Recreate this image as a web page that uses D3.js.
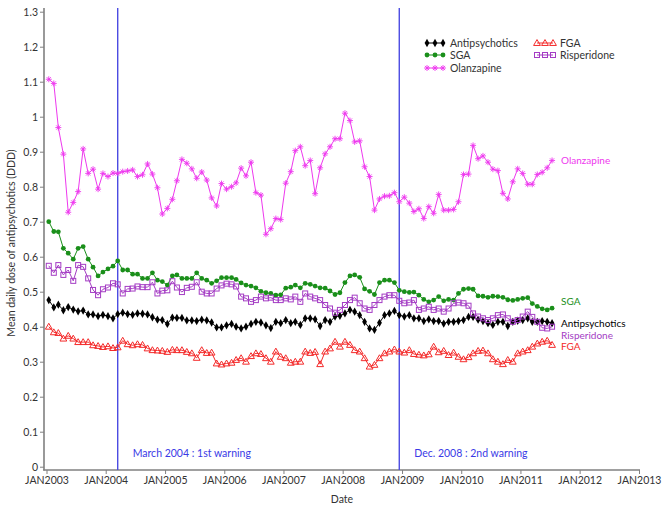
<!DOCTYPE html>
<html>
<head>
<meta charset="utf-8">
<script src="https://cdn.jsdelivr.net/npm/d3@7"></script>
<style>
  html, body { margin: 0; padding: 0; background: #fff; }
  svg { display: block; font-family: Lato, "Open Sans", sans-serif; }
</style>
</head>
<body>
<svg id="chart" width="664" height="510"></svg>
<script>
// ---------------- DATA ----------------
const startMonth = "2003-01";          // first monthly observation
const monthCount = 103;                // Jan 2003 .. Jul 2011

const antipsychotics = [0.476,0.455,0.463,0.447,0.456,0.449,0.444,0.446,0.435,0.435,0.430,0.434,0.430,0.424,0.436,0.440,0.436,0.434,0.438,0.437,0.435,0.427,0.420,0.419,0.408,0.426,0.425,0.425,0.418,0.418,0.416,0.420,0.418,0.412,0.398,0.398,0.404,0.408,0.400,0.395,0.400,0.408,0.414,0.412,0.404,0.396,0.414,0.410,0.419,0.410,0.414,0.405,0.424,0.424,0.421,0.402,0.419,0.414,0.429,0.431,0.438,0.448,0.443,0.433,0.414,0.395,0.391,0.411,0.433,0.438,0.445,0.433,0.429,0.433,0.424,0.424,0.416,0.421,0.416,0.416,0.409,0.414,0.414,0.416,0.419,0.428,0.428,0.420,0.416,0.410,0.405,0.414,0.414,0.402,0.414,0.417,0.419,0.424,0.414,0.414,0.416,0.414,0.410];

const sga = [0.700,0.672,0.671,0.624,0.610,0.593,0.624,0.629,0.593,0.570,0.545,0.556,0.565,0.573,0.588,0.562,0.562,0.550,0.550,0.538,0.538,0.554,0.533,0.529,0.519,0.545,0.548,0.538,0.538,0.538,0.554,0.538,0.533,0.524,0.531,0.540,0.540,0.540,0.535,0.525,0.519,0.516,0.511,0.501,0.497,0.495,0.490,0.491,0.510,0.513,0.519,0.511,0.524,0.521,0.516,0.511,0.510,0.502,0.492,0.497,0.526,0.545,0.548,0.541,0.508,0.501,0.492,0.526,0.533,0.533,0.526,0.504,0.500,0.498,0.499,0.490,0.478,0.471,0.476,0.486,0.474,0.478,0.476,0.495,0.507,0.509,0.507,0.488,0.487,0.484,0.487,0.486,0.484,0.477,0.475,0.478,0.481,0.483,0.466,0.458,0.451,0.448,0.453];

const olanzapine = [1.107,1.095,0.969,0.893,0.727,0.755,0.786,0.908,0.838,0.850,0.793,0.838,0.829,0.839,0.838,0.843,0.845,0.848,0.829,0.834,0.865,0.836,0.797,0.722,0.738,0.764,0.817,0.878,0.867,0.851,0.824,0.842,0.819,0.768,0.745,0.809,0.793,0.800,0.811,0.853,0.831,0.870,0.783,0.776,0.664,0.680,0.709,0.706,0.810,0.843,0.903,0.914,0.860,0.875,0.780,0.854,0.894,0.914,0.937,0.937,1.010,0.989,0.928,0.931,0.857,0.829,0.733,0.765,0.773,0.774,0.783,0.757,0.770,0.753,0.729,0.737,0.709,0.743,0.724,0.778,0.733,0.733,0.735,0.757,0.835,0.836,0.918,0.880,0.888,0.870,0.850,0.846,0.781,0.765,0.814,0.851,0.838,0.807,0.807,0.835,0.841,0.854,0.875];

const fga = [0.400,0.384,0.382,0.366,0.374,0.366,0.356,0.356,0.356,0.347,0.345,0.342,0.344,0.339,0.341,0.360,0.350,0.347,0.350,0.348,0.338,0.333,0.332,0.331,0.328,0.334,0.333,0.333,0.328,0.324,0.311,0.333,0.325,0.326,0.295,0.292,0.295,0.297,0.305,0.310,0.300,0.316,0.324,0.322,0.310,0.300,0.329,0.314,0.310,0.297,0.300,0.300,0.329,0.325,0.328,0.293,0.329,0.338,0.357,0.343,0.357,0.348,0.333,0.329,0.310,0.286,0.291,0.310,0.324,0.329,0.335,0.329,0.326,0.333,0.322,0.320,0.318,0.321,0.343,0.327,0.331,0.319,0.326,0.314,0.307,0.313,0.324,0.331,0.332,0.324,0.307,0.300,0.293,0.305,0.300,0.324,0.329,0.333,0.343,0.352,0.357,0.360,0.348];

const risperidone = [0.574,0.554,0.576,0.548,0.562,0.531,0.576,0.571,0.538,0.505,0.490,0.507,0.512,0.524,0.521,0.495,0.508,0.509,0.515,0.513,0.513,0.527,0.495,0.503,0.504,0.530,0.512,0.499,0.511,0.514,0.527,0.500,0.495,0.495,0.509,0.518,0.523,0.521,0.515,0.486,0.481,0.471,0.476,0.486,0.481,0.483,0.476,0.476,0.481,0.478,0.486,0.471,0.495,0.486,0.481,0.476,0.462,0.452,0.440,0.448,0.462,0.476,0.483,0.467,0.452,0.448,0.462,0.476,0.486,0.490,0.490,0.474,0.467,0.469,0.476,0.448,0.452,0.457,0.448,0.452,0.443,0.452,0.467,0.469,0.467,0.460,0.438,0.429,0.424,0.419,0.424,0.433,0.435,0.424,0.414,0.419,0.429,0.443,0.428,0.414,0.397,0.395,0.400];

const xTickYears  = [2003,2004,2005,2006,2007,2008,2009,2010,2011,2012,2013];
const xTickLabels = ["JAN2003","JAN2004","JAN2005","JAN2006","JAN2007","JAN2008","JAN2009","JAN2010","JAN2011","JAN2012","JAN2013"];
const yTicks      = [0,0.1,0.2,0.3,0.4,0.5,0.6,0.7,0.8,0.9,1,1.1,1.2,1.3];
const yTickLabels = ["0","0.1","0.2","0.3","0.4","0.5","0.6","0.7","0.8","0.9","1","1.1","1.2","1.3"];

const warnings = [
  {date: "2004-03-15", label: "March 2004 : 1st warning"},
  {date: "2008-12-15", label: "Dec. 2008 : 2nd warning"}
];

// ---------------- SETUP ----------------
const svg = d3.select("#chart");
const parse = d3.utcParse("%Y-%m-%d");
const first = d3.utcParse("%Y-%m")(startMonth);
const dates = d3.range(monthCount).map(i => {
  const d = d3.utcMonth.offset(first, i);
  return new Date(Date.UTC(d.getUTCFullYear(), d.getUTCMonth(), 15));
});

const x = d3.scaleUtc()
  .domain([new Date(Date.UTC(2003,0,1)), new Date(Date.UTC(2013,0,1))])
  .range([46.5, 639]);
const y = d3.scaleLinear().domain([0, 1.3]).range([466.7, 11.7]);

const axisColor = "#808080";
const textColor = "#333";

const series = [
  {name: "Antipsychotics", values: antipsychotics, color: "#000000", marker: "diamond"},
  {name: "SGA",            values: sga,            color: "#1a8f1a", marker: "circle"},
  {name: "Olanzapine",     values: olanzapine,     color: "#ee38ee", marker: "star"},
  {name: "FGA",            values: fga,            color: "#f42a2a", marker: "triangle"},
  {name: "Risperidone",    values: risperidone,    color: "#a43cc4", marker: "square"}
];

// markers
function drawMarker(g, type, color, cx, cy) {
  if (type === "diamond") {
    g.append("path").attr("d", d3.symbol(d3.symbolDiamond, 20)())
      .attr("transform", `translate(${cx},${cy})`).attr("fill", color);
  } else if (type === "circle") {
    g.append("circle").attr("cx", cx).attr("cy", cy).attr("r", 2.4).attr("fill", color);
  } else if (type === "star") {
    const r = 3, s = r * 0.7;
    g.append("path")
      .attr("d", `M${cx-r},${cy}L${cx+r},${cy}M${cx},${cy-r}L${cx},${cy+r}M${cx-s},${cy-s}L${cx+s},${cy+s}M${cx-s},${cy+s}L${cx+s},${cy-s}`)
      .attr("stroke", color).attr("stroke-width", 0.9).attr("fill", "none");
  } else if (type === "triangle") {
    g.append("path").attr("d", d3.symbol(d3.symbolTriangle, 20)())
      .attr("transform", `translate(${cx},${cy+0.5})`)
      .attr("fill", "none").attr("stroke", color).attr("stroke-width", 1);
  } else if (type === "square") {
    g.append("rect").attr("x", cx-2.5).attr("y", cy-2.5).attr("width", 5).attr("height", 5)
      .attr("fill", "none").attr("stroke", color).attr("stroke-width", 1);
  }
}

// ---------------- AXES ----------------
const yAxis = d3.axisLeft(y).tickValues(yTicks).tickSize(4).tickPadding(2)
  .tickFormat((d, i) => yTickLabels[i]);
const gy = svg.append("g").attr("transform", "translate(44,0)").call(yAxis);
gy.select(".domain").remove();
gy.selectAll(".tick line").attr("stroke", axisColor).attr("stroke-width", 1);
gy.selectAll(".tick text").attr("fill", textColor).style("font-size", "10.5px")
  .style("font-family", "Lato, 'Open Sans', sans-serif");
svg.append("line").attr("x1", 44).attr("x2", 44).attr("y1", 8).attr("y2", 470.5)
  .attr("stroke", axisColor).attr("stroke-width", 1.6);

const xAxis = d3.axisBottom(x)
  .tickValues(xTickYears.map(yr => new Date(Date.UTC(yr, 0, 1))))
  .tickSize(4).tickPadding(3)
  .tickFormat((d, i) => xTickLabels[i]);
const gx = svg.append("g").attr("transform", "translate(0,470)").call(xAxis);
gx.select(".domain").remove();
gx.selectAll(".tick line").attr("stroke", axisColor).attr("stroke-width", 1);
gx.selectAll(".tick text").attr("fill", textColor).style("font-size", "10.5px")
  .style("font-family", "Lato, 'Open Sans', sans-serif");
svg.append("line").attr("x1", 43.2).attr("x2", 640).attr("y1", 470).attr("y2", 470)
  .attr("stroke", axisColor).attr("stroke-width", 1.6);

svg.append("text").attr("x", 342).attr("y", 503).attr("text-anchor", "middle")
  .attr("fill", textColor).style("font-size", "10.5px").text("Date");
svg.append("text").attr("transform", "translate(15,243) rotate(-90)")
  .attr("text-anchor", "middle").attr("fill", textColor).style("font-size", "10.5px")
  .text("Mean daily dose of antipsychotics (DDD)");

// ---------------- WARNING LINES ----------------
warnings.forEach(w => {
  const xx = x(parse(w.date));
  svg.append("line").attr("x1", xx).attr("x2", xx).attr("y1", 8).attr("y2", 470)
    .attr("stroke", "#4c4ce2").attr("stroke-width", 1.4);
  svg.append("text").attr("x", xx + 15).attr("y", 457)
    .attr("fill", "#3a3ae6").style("font-size", "10.5px").text(w.label);
});

// ---------------- SERIES ----------------
const line = d3.line().x((d, i) => x(dates[i])).y(d => y(d));
series.forEach(s => {
  const g = svg.append("g");
  g.append("path").datum(s.values).attr("d", line)
    .attr("fill", "none").attr("stroke", s.color).attr("stroke-width", 1);
  s.values.forEach((v, i) => drawMarker(g, s.marker, s.color, x(dates[i]), y(v)));
});

// ---------------- END LABELS ----------------
const endLabels = [
  {name: "Olanzapine",     color: "#ee38ee", y: 164},
  {name: "SGA",            color: "#1a8f1a", y: 305},
  {name: "Antipsychotics", color: "#000000", y: 327},
  {name: "Risperidone",    color: "#a43cc4", y: 338.5},
  {name: "FGA",            color: "#f42a2a", y: 349.5}
];
endLabels.forEach(l => {
  svg.append("text").attr("x", 561).attr("y", l.y).attr("fill", l.color)
    .style("font-size", "10px").text(l.name);
});

// ---------------- LEGEND ----------------
const legendItems = [
  {s: series[0], x: 427, y: 43},
  {s: series[1], x: 427, y: 55},
  {s: series[2], x: 427, y: 68},
  {s: series[3], x: 537, y: 43},
  {s: series[4], x: 537, y: 55}
];
legendItems.forEach(li => {
  const g = svg.append("g");
  g.append("line").attr("x1", li.x).attr("x2", li.x + 16).attr("y1", li.y).attr("y2", li.y)
    .attr("stroke", li.s.color).attr("stroke-width", 1);
  [0, 8, 16].forEach(dx => drawMarker(g, li.s.marker, li.s.color, li.x + dx, li.y));
  g.append("text").attr("x", li.x + 23).attr("y", li.y + 4).attr("fill", textColor)
    .style("font-size", "10.5px").text(li.s.name);
});
</script>
</body>
</html>
